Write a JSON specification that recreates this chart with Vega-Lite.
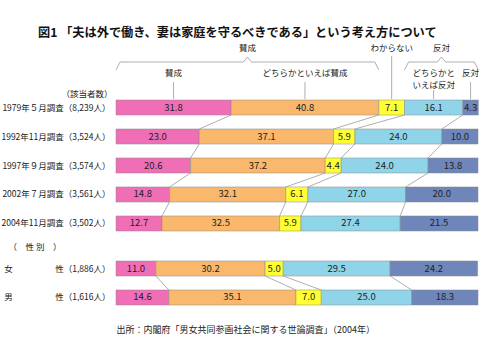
{
  "$schema": "https://vega.github.io/schema/vega-lite/v6.json",
  "padding": {"left": 0, "top": 26, "right": 0, "bottom": 0},
  "config": {
    "font": "Noto Sans CJK JP",
    "view": {"stroke": null},
    "text": {"color": "#222"},
    "axis": {"labelColor": "#222", "titleColor": "#222"}
  },
  "datasets": {
    "survey": [
      {"survey": "1979年５月調査（8,239人）", "group": "time", "category": "賛成", "value": 31.8},
      {"survey": "1979年５月調査（8,239人）", "group": "time", "category": "どちらかといえば賛成", "value": 40.8},
      {"survey": "1979年５月調査（8,239人）", "group": "time", "category": "わからない", "value": 7.1},
      {"survey": "1979年５月調査（8,239人）", "group": "time", "category": "どちらかといえば反対", "value": 16.1},
      {"survey": "1979年５月調査（8,239人）", "group": "time", "category": "反対", "value": 4.3},
      {"survey": "1992年11月調査（3,524人）", "group": "time", "category": "賛成", "value": 23.0},
      {"survey": "1992年11月調査（3,524人）", "group": "time", "category": "どちらかといえば賛成", "value": 37.1},
      {"survey": "1992年11月調査（3,524人）", "group": "time", "category": "わからない", "value": 5.9},
      {"survey": "1992年11月調査（3,524人）", "group": "time", "category": "どちらかといえば反対", "value": 24.0},
      {"survey": "1992年11月調査（3,524人）", "group": "time", "category": "反対", "value": 10.0},
      {"survey": "1997年９月調査（3,574人）", "group": "time", "category": "賛成", "value": 20.6},
      {"survey": "1997年９月調査（3,574人）", "group": "time", "category": "どちらかといえば賛成", "value": 37.2},
      {"survey": "1997年９月調査（3,574人）", "group": "time", "category": "わからない", "value": 4.4},
      {"survey": "1997年９月調査（3,574人）", "group": "time", "category": "どちらかといえば反対", "value": 24.0},
      {"survey": "1997年９月調査（3,574人）", "group": "time", "category": "反対", "value": 13.8},
      {"survey": "2002年７月調査（3,561人）", "group": "time", "category": "賛成", "value": 14.8},
      {"survey": "2002年７月調査（3,561人）", "group": "time", "category": "どちらかといえば賛成", "value": 32.1},
      {"survey": "2002年７月調査（3,561人）", "group": "time", "category": "わからない", "value": 6.1},
      {"survey": "2002年７月調査（3,561人）", "group": "time", "category": "どちらかといえば反対", "value": 27.0},
      {"survey": "2002年７月調査（3,561人）", "group": "time", "category": "反対", "value": 20.0},
      {"survey": "2004年11月調査（3,502人）", "group": "time", "category": "賛成", "value": 12.7},
      {"survey": "2004年11月調査（3,502人）", "group": "time", "category": "どちらかといえば賛成", "value": 32.5},
      {"survey": "2004年11月調査（3,502人）", "group": "time", "category": "わからない", "value": 5.9},
      {"survey": "2004年11月調査（3,502人）", "group": "time", "category": "どちらかといえば反対", "value": 27.4},
      {"survey": "2004年11月調査（3,502人）", "group": "time", "category": "反対", "value": 21.5},
      {"survey": "女　　　　　性（1,886人）", "group": "sex", "category": "賛成", "value": 11.0},
      {"survey": "女　　　　　性（1,886人）", "group": "sex", "category": "どちらかといえば賛成", "value": 30.2},
      {"survey": "女　　　　　性（1,886人）", "group": "sex", "category": "わからない", "value": 5.0},
      {"survey": "女　　　　　性（1,886人）", "group": "sex", "category": "どちらかといえば反対", "value": 29.5},
      {"survey": "女　　　　　性（1,886人）", "group": "sex", "category": "反対", "value": 24.2},
      {"survey": "男　　　　　性（1,616人）", "group": "sex", "category": "賛成", "value": 14.6},
      {"survey": "男　　　　　性（1,616人）", "group": "sex", "category": "どちらかといえば賛成", "value": 35.1},
      {"survey": "男　　　　　性（1,616人）", "group": "sex", "category": "わからない", "value": 7.0},
      {"survey": "男　　　　　性（1,616人）", "group": "sex", "category": "どちらかといえば反対", "value": 25.0},
      {"survey": "男　　　　　性（1,616人）", "group": "sex", "category": "反対", "value": 18.3}
    ]
  },
  "spacing": 0,
  "bounds": "flush",
  "resolve": {"scale": {"x": "independent", "y": "independent"}},
  "vconcat": [
    {
      "width": 362,
      "height": 60,
      "title": {"text": "図1 「夫は外で働き、妻は家庭を守るべきである」という考え方について", "anchor": "start", "frame": "group", "dx": -78, "fontSize": 12.2, "fontWeight": "bold", "offset": 0, "color": "#111"},
      "data": {"name": "survey"},
      "transform": [
        {"filter": "indexof(datum.survey, '1979') == 0"},
        {"calculate": "indexof(['賛成','どちらかといえば賛成','わからない','どちらかといえば反対','反対'], datum.category)", "as": "ord"},
        {"stack": "value", "groupby": ["survey"], "sort": [{"field": "ord", "order": "ascending"}], "as": ["x0", "x1"]},
        {"calculate": "(datum.x0 + datum.x1) / 2", "as": "mid"},
        {"calculate": "datum.ord < 2 ? '賛成' : (datum.ord == 2 ? 'わからない' : '反対')", "as": "grp"}
      ],
      "layer": [
        {
          "transform": [
            {"filter": "datum.ord != 2"},
            {"calculate": "datum.ord == 3 ? ['どちらかと', 'いえば反対'] : datum.category", "as": "lab"}
          ],
          "mark": {"type": "text", "baseline": "top", "fontSize": 8.5, "lineHeight": 12},
          "encoding": {
            "x": {"field": "mid", "type": "quantitative", "scale": {"domain": [0, 100], "nice": false}, "axis": null},
            "y": {"datum": 30, "type": "quantitative", "scale": {"domain": [0, 60], "reverse": true, "nice": false, "zero": false}, "axis": null},
            "text": {"field": "lab"}
          }
        },
        {
          "transform": [{"filter": "datum.ord == 0 || datum.ord == 1 || datum.ord == 4"}],
          "mark": {"type": "rule", "color": "#999", "strokeWidth": 0.8},
          "encoding": {
            "x": {"field": "mid", "type": "quantitative"},
            "y": {"datum": 43, "type": "quantitative"},
            "y2": {"datum": 60}
          }
        },
        {
          "transform": [{"filter": "datum.ord == 3"}],
          "mark": {"type": "rule", "color": "#999", "strokeWidth": 0.8},
          "encoding": {
            "x": {"field": "mid", "type": "quantitative"},
            "y": {"datum": 51, "type": "quantitative"},
            "y2": {"datum": 60}
          }
        },
        {
          "transform": [{"filter": "datum.ord == 2"}],
          "mark": {"type": "rule", "color": "#999", "strokeWidth": 0.8},
          "encoding": {
            "x": {"field": "mid", "type": "quantitative"},
            "y": {"datum": 17, "type": "quantitative"},
            "y2": {"datum": 60}
          }
        },
        {
          "transform": [
            {"aggregate": [{"op": "min", "field": "x0", "as": "g0"}, {"op": "max", "field": "x1", "as": "g1"}], "groupby": ["grp"]},
            {"calculate": "(datum.g0 + datum.g1) / 2", "as": "gm"}
          ],
          "layer": [
            {
              "mark": {"type": "text", "baseline": "middle", "fontSize": 8.5},
              "encoding": {
                "x": {"field": "gm", "type": "quantitative"},
                "y": {"datum": 9, "type": "quantitative"},
                "text": {"field": "grp"}
              }
            },
            {
              "transform": [{"filter": "datum.grp != 'わからない'"}],
              "layer": [
                {
                  "mark": {"type": "rule", "color": "#999", "strokeWidth": 0.8, "x2Offset": 4},
                  "encoding": {"x": {"field": "g0", "type": "quantitative"}, "x2": {"field": "g0"}, "y": {"datum": 31, "type": "quantitative"}, "y2": {"datum": 23}}
                },
                {
                  "mark": {"type": "rule", "color": "#999", "strokeWidth": 0.8, "x2Offset": -4},
                  "encoding": {"x": {"field": "g1", "type": "quantitative"}, "x2": {"field": "g1"}, "y": {"datum": 31, "type": "quantitative"}, "y2": {"datum": 23}}
                },
                {
                  "mark": {"type": "rule", "color": "#999", "strokeWidth": 0.8, "xOffset": 4, "x2Offset": -4},
                  "encoding": {"x": {"field": "g0", "type": "quantitative"}, "x2": {"field": "gm"}, "y": {"datum": 23, "type": "quantitative"}}
                },
                {
                  "mark": {"type": "rule", "color": "#999", "strokeWidth": 0.8, "xOffset": 4, "x2Offset": -4},
                  "encoding": {"x": {"field": "gm", "type": "quantitative"}, "x2": {"field": "g1"}, "y": {"datum": 23, "type": "quantitative"}}
                },
                {
                  "mark": {"type": "rule", "color": "#999", "strokeWidth": 0.8, "xOffset": -4},
                  "encoding": {"x": {"field": "gm", "type": "quantitative"}, "x2": {"field": "gm"}, "y": {"datum": 23, "type": "quantitative"}, "y2": {"datum": 18}}
                },
                {
                  "mark": {"type": "rule", "color": "#999", "strokeWidth": 0.8, "x2Offset": 4},
                  "encoding": {"x": {"field": "gm", "type": "quantitative"}, "x2": {"field": "gm"}, "y": {"datum": 18, "type": "quantitative"}, "y2": {"datum": 23}}
                }
              ]
            }
          ]
        }
      ]
    },
    {
      "width": 362,
      "height": 133,
      "data": {"name": "survey"},
      "transform": [
        {"filter": "datum.group == 'time'"},
        {"calculate": "indexof(['賛成','どちらかといえば賛成','わからない','どちらかといえば反対','反対'], datum.category)", "as": "ord"},
        {"stack": "value", "groupby": ["survey"], "sort": [{"field": "ord", "order": "ascending"}], "as": ["x0", "x1"]},
        {"calculate": "(datum.x0 + datum.x1) / 2", "as": "mid"}
      ],
      "layer": [
        {
          "mark": {"type": "bar", "stroke": "#8a8a8a", "strokeWidth": 0.5},
          "encoding": {
            "y": {"field": "survey", "type": "nominal", "sort": "ascending", "scale": {"paddingInner": 0.48, "paddingOuter": 0.034},
              "axis": {"title": "（該当者数）", "titleAngle": 0, "titleAlign": "right", "titleBaseline": "middle", "titleX": -4, "titleY": -6, "titleFontWeight": "normal", "titleFontSize": 8.5, "labelFontSize": 8.5, "ticks": false, "domain": false, "labelPadding": 6, "labelLimit": 300}},
            "x": {"field": "x0", "type": "quantitative", "scale": {"domain": [0, 100], "nice": false}, "axis": null},
            "x2": {"field": "x1"},
            "color": {"field": "category", "type": "nominal", "scale": {"domain": ["賛成", "どちらかといえば賛成", "わからない", "どちらかといえば反対", "反対"], "range": ["#f06eb6", "#f9b86c", "#ffff33", "#8fd4e8", "#6f86ba"]}, "legend": null}
          }
        },
        {
          "mark": {"type": "text", "fontSize": 9.5, "baseline": "middle"},
          "encoding": {
            "y": {"field": "survey", "type": "nominal", "sort": "ascending"},
            "x": {"field": "mid", "type": "quantitative"},
            "text": {"field": "value", "type": "quantitative", "format": ".1f"}
          }
        },
        {
          "transform": [
            {"window": [{"op": "lead", "field": "x1", "as": "nx1"}, {"op": "lead", "field": "survey", "as": "nsurvey"}], "groupby": ["category"], "sort": [{"field": "survey", "order": "ascending"}]},
            {"filter": "datum.nsurvey != null && datum.ord < 4"}
          ],
          "mark": {"type": "rule", "color": "#9a9a9a", "strokeWidth": 0.8, "yOffset": 7.5, "y2Offset": -7.5},
          "encoding": {
            "y": {"field": "survey", "type": "nominal", "sort": "ascending"},
            "y2": {"field": "nsurvey"},
            "x": {"field": "x1", "type": "quantitative"},
            "x2": {"field": "nx1"}
          }
        }
      ]
    },
    {
      "width": 362,
      "height": 102,
      "data": {"name": "survey"},
      "transform": [
        {"filter": "datum.group == 'sex'"},
        {"calculate": "indexof(['賛成','どちらかといえば賛成','わからない','どちらかといえば反対','反対'], datum.category)", "as": "ord"},
        {"stack": "value", "groupby": ["survey"], "sort": [{"field": "ord", "order": "ascending"}], "as": ["x0", "x1"]},
        {"calculate": "(datum.x0 + datum.x1) / 2", "as": "mid"}
      ],
      "layer": [
        {
          "mark": {"type": "bar", "stroke": "#8a8a8a", "strokeWidth": 0.5},
          "encoding": {
            "y": {"field": "survey", "type": "nominal", "sort": "ascending", "scale": {"paddingInner": 0.48, "paddingOuter": 1.0},
              "axis": {"title": "（　性 別　）", "titleAngle": 0, "titleAlign": "left", "titleBaseline": "middle", "titleX": -108, "titleY": 14, "titleFontWeight": "normal", "titleFontSize": 8.5, "labelFontSize": 8.5, "ticks": false, "domain": false, "labelPadding": 6, "labelLimit": 300}},
            "x": {"field": "x0", "type": "quantitative", "scale": {"domain": [0, 100], "nice": false},
              "axis": {"title": "出所：内閣府「男女共同参画社会に関する世論調査」（2004年）", "labels": false, "ticks": false, "domain": false, "grid": false, "titleX": 0, "titleY": -5, "titleAlign": "left", "titleAnchor": "start", "titleBaseline": "middle", "titleFontWeight": "normal", "titleFontSize": 9}},
            "x2": {"field": "x1"},
            "color": {"field": "category", "type": "nominal", "scale": {"domain": ["賛成", "どちらかといえば賛成", "わからない", "どちらかといえば反対", "反対"], "range": ["#f06eb6", "#f9b86c", "#ffff33", "#8fd4e8", "#6f86ba"]}, "legend": null}
          }
        },
        {
          "mark": {"type": "text", "fontSize": 9.5, "baseline": "middle"},
          "encoding": {
            "y": {"field": "survey", "type": "nominal", "sort": "ascending"},
            "x": {"field": "mid", "type": "quantitative"},
            "text": {"field": "value", "type": "quantitative", "format": ".1f"}
          }
        },
        {
          "transform": [
            {"window": [{"op": "lead", "field": "x1", "as": "nx1"}, {"op": "lead", "field": "survey", "as": "nsurvey"}], "groupby": ["category"], "sort": [{"field": "survey", "order": "ascending"}]},
            {"filter": "datum.nsurvey != null && datum.ord < 4"}
          ],
          "mark": {"type": "rule", "color": "#9a9a9a", "strokeWidth": 0.8, "yOffset": 7.5, "y2Offset": -7.5},
          "encoding": {
            "y": {"field": "survey", "type": "nominal", "sort": "ascending"},
            "y2": {"field": "nsurvey"},
            "x": {"field": "x1", "type": "quantitative"},
            "x2": {"field": "nx1"}
          }
        }
      ]
    }
  ]
}
